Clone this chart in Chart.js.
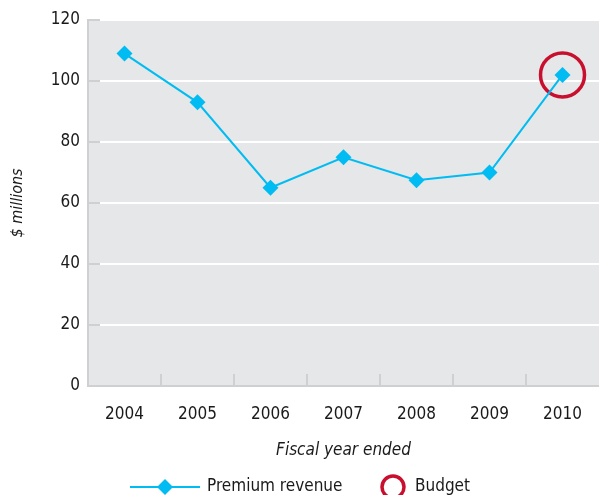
<!DOCTYPE html>
<html>
<head>
<meta charset="utf-8">
<script src="https://cdn.jsdelivr.net/npm/chart.js@4"></script>
<style>
  body { margin: 0; background: #fff; }
  #wrap { width: 599px; height: 495px; }
</style>
</head>
<body>
<div id="wrap"><canvas id="chart1"></canvas></div>
<script>
// Datos
const years = ['2004', '2005', '2006', '2007', '2008', '2009', '2010'];
const premiumRevenue = [109, 93, 65, 75, 67.5, 70, 102];
const budget = [null, null, null, null, null, null, 102];
const yTicks = [0, 20, 40, 60, 80, 100, 120];

const FONT = "'DejaVu Sans Condensed', 'Liberation Sans Narrow', sans-serif";
const FSIZE = 17;
const TEXT = '#1a1a1a';
const CYAN = '#00bcf2';
const RED = '#c8102e';
const AXIS_GREY = '#cfd0d2';

// fondo gris + marcas cortas dentro del área
const plotBg = {
    id: 'plotBg',
    beforeDraw(chart) {
        const { ctx, chartArea: a } = chart;
        ctx.save();
        ctx.fillStyle = '#e6e7e8';
        ctx.fillRect(a.left, a.top, a.right - a.left, a.bottom - a.top);
        ctx.restore();
    },
    beforeDatasetsDraw(chart) {
        const { ctx, chartArea: a, scales } = chart;
        ctx.save();
        ctx.strokeStyle = AXIS_GREY;
        ctx.lineWidth = 2;
        // marcas eje y
        yTicks.forEach(v => {
            const y = scales.y.getPixelForValue(v);
            ctx.beginPath();
            ctx.moveTo(a.left, y);
            ctx.lineTo(a.left + 12, y);
            ctx.stroke();
        });
        // marcas eje x entre categorías
        for (let i = 0; i < years.length - 1; i++) {
            const x = (scales.x.getPixelForValue(i) + scales.x.getPixelForValue(i + 1)) / 2;
            ctx.beginPath();
            ctx.moveTo(x, a.bottom);
            ctx.lineTo(x, a.bottom - 12);
            ctx.stroke();
        }
        ctx.restore();
    }
};

// leyenda abajo
const bottomLegend = {
    id: 'bottomLegend',
    afterDraw(chart) {
        const { ctx } = chart;
        const y = 487;
        ctx.save();
        ctx.strokeStyle = CYAN;
        ctx.lineWidth = 2;
        ctx.beginPath();
        ctx.moveTo(130, y);
        ctx.lineTo(200, y);
        ctx.stroke();
        ctx.fillStyle = CYAN;
        ctx.beginPath();
        ctx.moveTo(165, y - 8); ctx.lineTo(173, y); ctx.lineTo(165, y + 8); ctx.lineTo(157, y);
        ctx.closePath();
        ctx.fill();

        ctx.strokeStyle = RED;
        ctx.lineWidth = 3.5;
        ctx.beginPath();
        ctx.arc(393, y, 11, 0, Math.PI * 2);
        ctx.stroke();

        ctx.fillStyle = TEXT;
        ctx.font = FSIZE + 'px ' + FONT;
        ctx.textBaseline = 'middle';
        ctx.fillText('Premium revenue', 207, y);
        ctx.fillText('Budget', 415, y);
        ctx.restore();
    }
};

const ctx1 = document.getElementById('chart1').getContext('2d');

const chart1 = new Chart(ctx1, {
    type: 'line',
    data: {
        labels: years,
        datasets: [{
            label: 'Premium revenue',
            data: premiumRevenue,
            borderColor: CYAN,
            backgroundColor: CYAN,
            borderWidth: 2,
            pointStyle: 'rectRot',
            pointRadius: 8,
            pointBorderWidth: 0,
            tension: 0
        }, {
            label: 'Budget',
            data: budget,
            showLine: false,
            borderColor: RED,
            backgroundColor: 'rgba(0,0,0,0)',
            pointStyle: 'circle',
            pointRadius: 22,
            pointBorderWidth: 3.5,
            clip: false
        }]
    },
    options: {
        responsive: true,
        maintainAspectRatio: false,
        animation: false,
        layout: {
            autoPadding: false,
            padding: { top: 20, right: 0, bottom: 30, left: 0 }
        },
        plugins: {
            legend: { display: false },
            tooltip: { enabled: false }
        },
        scales: {
            x: {
                offset: true,
                grid: { display: false, drawTicks: false },
                border: { color: AXIS_GREY, width: 2 },
                ticks: { color: TEXT, font: { family: FONT, size: FSIZE }, padding: 18 },
                title: {
                    display: true,
                    text: 'Fiscal year ended',
                    color: TEXT,
                    font: { family: FONT, size: FSIZE, style: 'italic' },
                    padding: { top: 12 }
                },
                afterFit(s) {
                    s.height = 79;
                    s.paddingLeft = 0;
                    s.paddingRight = 0;
                }
            },
            y: {
                min: 0,
                max: 120,
                afterBuildTicks(s) { s.ticks = yTicks.map(v => ({ value: v })); },
                grid: { color: '#ffffff', lineWidth: 2, drawTicks: false },
                border: { color: AXIS_GREY, width: 2 },
                ticks: { color: TEXT, font: { family: FONT, size: FSIZE }, padding: 8 },
                title: {
                    display: true,
                    text: '$ millions',
                    color: TEXT,
                    font: { family: FONT, size: 16, style: 'italic' },
                    padding: { top: 8, bottom: 0 }
                },
                afterFit(s) {
                    s.width = 88;
                    s.paddingTop = 0;
                    s.paddingBottom = 0;
                }
            }
        }
    },
    plugins: [plotBg, bottomLegend]
});
</script>
</body>
</html>
